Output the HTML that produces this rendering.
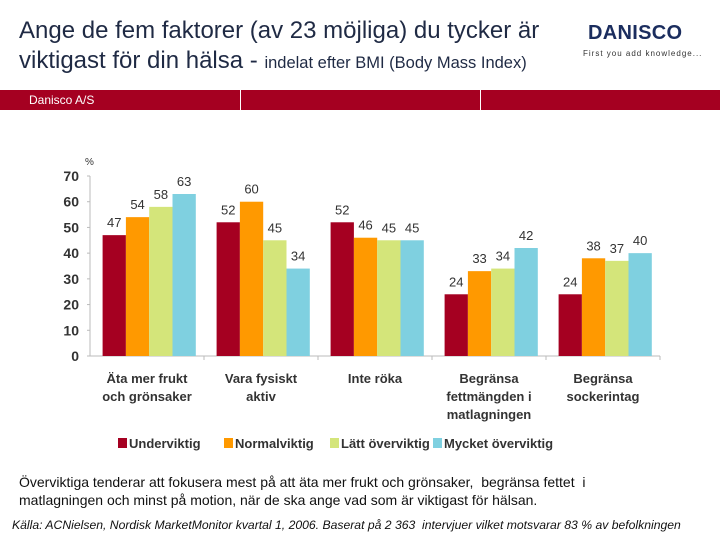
<!DOCTYPE html>
<html><head><meta charset="utf-8"><style>
body{margin:0;width:720px;height:540px;overflow:hidden;background:#fff;font-family:"Liberation Sans",sans-serif;position:relative}
.t{position:absolute;left:19px;color:#1f2a44;font-size:24px;line-height:30px;top:16px;white-space:nowrap}
.t small{font-size:16.5px}
</style></head><body>
<div class="t">Ange de fem faktorer (av 23 möjliga) du tycker är<br>viktigast för din hälsa - <small>indelat efter BMI (Body Mass Index)</small></div>
<div style="position:absolute;left:588px;top:22px;color:#1b2d5e;font-weight:bold;font-size:20px;letter-spacing:0.3px">DANISCO</div>
<div style="position:absolute;left:583px;top:49px;color:#333;font-size:8px;letter-spacing:1px">First you add knowledge...</div>
<div style="position:absolute;left:0;top:90px;width:720px;height:20px;background:#a50021">
<span style="position:absolute;left:29px;top:3px;color:#fff;font-size:12px">Danisco A/S</span>
<div style="position:absolute;left:240px;top:0;width:1px;height:20px;background:#fff"></div>
<div style="position:absolute;left:480px;top:0;width:1px;height:20px;background:#fff"></div>
</div>
<svg id="c" width="720" height="540" style="position:absolute;left:0;top:0"></svg>
<div style="position:absolute;left:19px;top:473px;font-size:14px;color:#111;line-height:18px;white-space:nowrap">Överviktiga tenderar att fokusera mest på att äta mer frukt och grönsaker,&nbsp; begränsa fettet&nbsp; i<br>matlagningen och minst på motion, när de ska ange vad som är viktigast för hälsan.</div>
<div style="position:absolute;left:12px;top:518px;font-size:12.2px;font-style:italic;color:#111;white-space:nowrap">Källa: ACNielsen, Nordisk MarketMonitor kvartal 1, 2006. Baserat på 2 363&nbsp; intervjuer vilket motsvarar 83 % av befolkningen</div>
<script>
const categories=[["Äta mer frukt","och grönsaker"],["Vara fysiskt","aktiv"],["Inte röka"],["Begränsa","fettmängden i","matlagningen"],["Begränsa","sockerintag"]];
const seriesNames=["Underviktig","Normalviktig","Lätt överviktig","Mycket överviktig"];
const underviktig=[47,52,52,24,24];
const normalviktig=[54,60,46,33,38];
const lattOverviktig=[58,45,45,34,37];
const mycketOverviktig=[63,34,45,42,40];
const yTicks=[0,10,20,30,40,50,60,70];
const colors=["#a50021","#ff9900","#d4e57a","#7fd0e0"];
const series=[underviktig,normalviktig,lattOverviktig,mycketOverviktig];
const svg=document.getElementById('c');const NS="http://www.w3.org/2000/svg";
const x0=90,x1=660,y0=356,yTop=176,cw=(x1-x0)/categories.length,bw=23.3;
const y=v=>y0-(v/70)*(y0-yTop);
function mk(t,a,txt){const e=document.createElementNS(NS,t);for(const k in a)e.setAttribute(k,a[k]);if(txt!=null)e.textContent=txt;svg.appendChild(e);return e;}
let e=mk('line',{x1:x0,y1:yTop,x2:x0,y2:y0,stroke:'#bbb'});

e=mk('line',{x1:x0,y1:y0,x2:x1,y2:y0,stroke:'#bbb'});

e=mk('text',{x:85,y:165,'font-size':10,fill:'#333'},'%');

yTicks.forEach(t=>{let l=mk('text',{x:79,y:y(t)+5,'font-size':14,'font-weight':'bold','text-anchor':'end',fill:'#333'},t);

mk('line',{x1:x0-3,y1:y(t),x2:x0,y2:y(t),stroke:'#bbb'});});
categories.forEach((c,i)=>{const gx=x0+i*cw;
mk('line',{x1:gx+cw,y1:y0,x2:gx+cw,y2:y0+4,stroke:'#bbb'});
series.forEach((s,j)=>{const bx=gx+12.6+j*bw;
let r=mk('rect',{x:bx,y:y(s[i]),width:bw,height:y0-y(s[i]),fill:colors[j]});

let v=mk('text',{x:bx+bw/2,y:y(s[i])-8,'font-size':13,'text-anchor':'middle',fill:'#333'},s[i]);
});
c.forEach((ln,k)=>{let l=mk('text',{x:gx+cw/2,y:383+k*18,'font-size':13,'font-weight':'bold','text-anchor':'middle',fill:'#333'},ln);
});});
let lx=[118,224,330,433];
seriesNames.forEach((n,j)=>{mk('rect',{x:lx[j],y:438,width:9,height:10,fill:colors[j]});
let l=mk('text',{x:lx[j]+11,y:448,'font-size':13,'font-weight':'bold',fill:'#333'},n);
});
</script>
</body></html>
